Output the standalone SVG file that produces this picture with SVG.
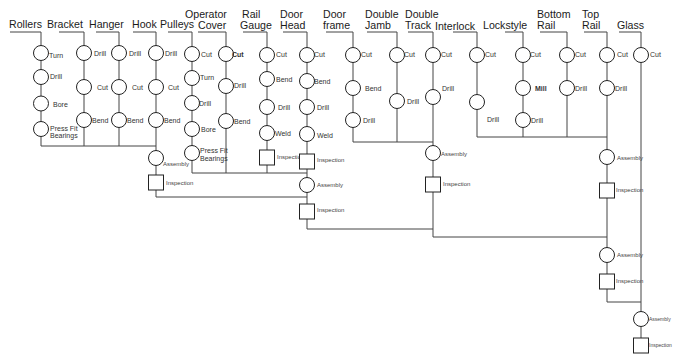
<svg xmlns="http://www.w3.org/2000/svg" width="673" height="354" viewBox="0 0 673 354">
<style>
.h{font-family:"Liberation Sans",Arial,sans-serif;font-size:10.6px;fill:#1a1a1a}
.l{font-family:"Liberation Sans",Arial,sans-serif;font-size:7px;fill:#333}
.b{font-weight:bold}
.s{font-family:"Liberation Sans",Arial,sans-serif;font-size:6px;fill:#444}
.t{font-size:5px}
circle,rect{fill:#fff;stroke:#222;stroke-width:1}
#connectors path{fill:none;stroke:#444;stroke-width:1}
</style>
<rect x="0" y="0" width="673" height="354" style="fill:#fff;stroke:none"/>
<g id="connectors">
<path d="M10,32H41V146H156"/>
<path d="M59,32H84V146"/>
<path d="M96,32H119V146"/>
<path d="M133,32H156V197H307"/>
<path d="M168,32H192V173H307"/>
<path d="M198,32H226V173"/>
<path d="M243,32H267V173"/>
<path d="M283,32H307V229H433"/>
<path d="M326,32H353V142H433"/>
<path d="M367,32H397V142"/>
<path d="M408,32H433V237H607"/>
<path d="M453,32H477V137H607"/>
<path d="M505,32H523V137"/>
<path d="M540,32H567V137"/>
<path d="M584,32H607V302H641"/>
<path d="M619,32H641V346"/>
</g>
<g id="headers">
<g id="h-rollers"><text class="h" x="9" y="28">Rollers</text></g>
<g id="h-bracket"><text class="h" x="47" y="28">Bracket</text></g>
<g id="h-hanger"><text class="h" x="89" y="28">Hanger</text></g>
<g id="h-hook"><text class="h" x="132" y="28">Hook</text></g>
<g id="h-pulleys"><text class="h" x="160" y="28">Pulleys</text></g>
<g id="h-cover"><text class="h" x="185" y="18">Operator</text><text class="h" x="198" y="28.5">Cover</text></g>
<g id="h-railgauge"><text class="h" x="242" y="18">Rail</text><text class="h" x="240" y="28.5">Gauge</text></g>
<g id="h-doorhead"><text class="h" x="280" y="18">Door</text><text class="h" x="280" y="28.5">Head</text></g>
<g id="h-doorframe"><text class="h" x="323" y="18">Door</text><text class="h" x="323" y="28.5">frame</text></g>
<g id="h-doublejamb"><text class="h" x="365" y="18">Double</text><text class="h" x="365" y="28.5">Jamb</text></g>
<g id="h-doubletrack"><text class="h" x="405" y="18">Double</text><text class="h" x="405" y="28.5">Track</text></g>
<g id="h-interlock"><text class="h" x="435" y="29.5">Interlock</text></g>
<g id="h-lockstyle"><text class="h" x="483" y="28.5">Lockstyle</text></g>
<g id="h-bottomrail"><text class="h" x="537" y="18">Bottom</text><text class="h" x="537" y="28.5">Rail</text></g>
<g id="h-toprail"><text class="h" x="582" y="18">Top</text><text class="h" x="582" y="28.5">Rail</text></g>
<g id="h-glass"><text class="h" x="617" y="28.5">Glass</text></g>
</g>
<!-- Rollers -->
<g id="rollers-turn"><circle cx="41" cy="53" r="7.5"/><text class="l" x="49" y="58">Turn</text></g>
<g id="rollers-drill"><circle cx="41" cy="77" r="7.5"/><text class="l" x="50" y="79">Drill</text></g>
<g id="rollers-bore"><circle cx="41" cy="103.5" r="7.5"/><text class="l" x="53" y="107">Bore</text></g>
<g id="rollers-press"><circle cx="41" cy="129" r="7.5"/><text class="l" x="50" y="130.5">Press Fit</text><text class="l" x="50" y="138">Bearings</text></g>
<!-- Bracket -->
<g id="bracket-drill"><circle cx="84" cy="53" r="7.5"/><text class="l" x="94" y="56">Drill</text></g>
<g id="bracket-cut"><circle cx="84" cy="87" r="7.5"/><text class="l" x="97" y="90">Cut</text></g>
<g id="bracket-bend"><circle cx="84" cy="120" r="7.5"/><text class="l" x="92" y="123">Bend</text></g>
<!-- Hanger -->
<g id="hanger-drill"><circle cx="119" cy="53" r="7.5"/><text class="l" x="129" y="56">Drill</text></g>
<g id="hanger-cut"><circle cx="119" cy="87" r="7.5"/><text class="l" x="132" y="90">Cut</text></g>
<g id="hanger-bend"><circle cx="119" cy="120" r="7.5"/><text class="l" x="127" y="123">Bend</text></g>
<!-- Hook -->
<g id="hook-drill"><circle cx="156" cy="53" r="7.5"/><text class="l" x="165" y="56">Drill</text></g>
<g id="hook-cut"><circle cx="156" cy="87" r="7.5"/><text class="l" x="168" y="90">Cut</text></g>
<g id="hook-bend"><circle cx="156" cy="120" r="7.5"/><text class="l" x="164" y="123">Bend</text></g>
<g id="hook-assembly"><circle cx="156" cy="158" r="7.5"/><text class="s" x="163" y="166">Assembly</text></g>
<g id="hook-inspection"><rect x="148.5" y="175" width="15" height="15"/><text class="s" x="166" y="185">Inspection</text></g>
<!-- Pulleys -->
<g id="pulleys-cut"><circle cx="192" cy="54" r="7.5"/><text class="l" x="201" y="57">Cut</text></g>
<g id="pulleys-turn"><circle cx="192" cy="78" r="7.5"/><text class="l" x="200" y="80">Turn</text></g>
<g id="pulleys-drill"><circle cx="192" cy="103" r="7.5"/><text class="l" x="199" y="106">Drill</text></g>
<g id="pulleys-bore"><circle cx="192" cy="129" r="7.5"/><text class="l" x="201" y="132">Bore</text></g>
<g id="pulleys-press"><circle cx="192" cy="153" r="7.5"/><text class="l" x="200" y="153">Press Fit</text><text class="l" x="200" y="161">Bearings</text></g>
<!-- Operator Cover -->
<g id="cover-cut"><circle cx="226" cy="54" r="7.5"/><text class="l b" x="232" y="57">Cut</text></g>
<g id="cover-drill"><circle cx="226" cy="86" r="7.5"/><text class="l" x="234" y="88">Drill</text></g>
<g id="cover-bend"><circle cx="226" cy="121" r="7.5"/><text class="l" x="234" y="124">Bend</text></g>
<!-- Rail Gauge -->
<g id="gauge-cut"><circle cx="267" cy="55" r="7.5"/><text class="l" x="276" y="57">Cut</text></g>
<g id="gauge-bend"><circle cx="267" cy="79" r="7.5"/><text class="l" x="276" y="82">Bend</text></g>
<g id="gauge-drill"><circle cx="267" cy="107" r="7.5"/><text class="l" x="278" y="109.5">Drill</text></g>
<g id="gauge-weld"><circle cx="267" cy="133" r="7.5"/><text class="l" x="275" y="136">Weld</text></g>
<g id="gauge-inspection"><rect x="259.5" y="150" width="15" height="15"/><text class="s" x="277" y="159">Inspection</text></g>
<!-- Door Head -->
<g id="head-cut"><circle cx="307" cy="55" r="7.5"/><text class="l" x="314" y="57">Cut</text></g>
<g id="head-bend"><circle cx="307" cy="81" r="7.5"/><text class="l" x="314" y="84">Bend</text></g>
<g id="head-drill"><circle cx="307" cy="107" r="7.5"/><text class="l" x="317" y="109.5">Drill</text></g>
<g id="head-weld"><circle cx="307" cy="134" r="7.5"/><text class="l" x="317" y="137.5">Weld</text></g>
<g id="head-inspection"><rect x="299.5" y="154" width="15" height="15"/><text class="s" x="317" y="162">Inspection</text></g>
<g id="head-assembly"><circle cx="307" cy="185" r="7.5"/><text class="s" x="317" y="187">Assembly</text></g>
<g id="head-inspection2"><rect x="299.5" y="204" width="15" height="15"/><text class="s" x="317" y="211.5">Inspection</text></g>
<!-- Door frame -->
<g id="frame-cut"><circle cx="353" cy="55" r="7.5"/><text class="l" x="361" y="57">Cut</text></g>
<g id="frame-bend"><circle cx="353" cy="88" r="7.5"/><text class="l" x="365" y="90.5">Bend</text></g>
<g id="frame-drill"><circle cx="353" cy="120" r="7.5"/><text class="l" x="363" y="123">Drill</text></g>
<!-- Double Jamb -->
<g id="jamb-cut"><circle cx="397" cy="55" r="7.5"/><text class="l" x="404" y="57">Cut</text></g>
<g id="jamb-drill"><circle cx="397" cy="101" r="7.5"/><text class="l" x="407" y="104">Drill</text></g>
<!-- Double Track -->
<g id="track-cut"><circle cx="433" cy="55" r="7.5"/><text class="l" x="441" y="57">Cut</text></g>
<g id="track-drill"><circle cx="433" cy="97" r="7.5"/><text class="l" x="442" y="90.5">Drill</text></g>
<g id="track-assembly"><circle cx="433" cy="153" r="7.5"/><text class="s" x="441" y="156">Assembly</text></g>
<g id="track-inspection"><rect x="425.5" y="177" width="15" height="15"/><text class="s" x="443" y="186">Inspection</text></g>
<!-- Interlock -->
<g id="interlock-cut"><circle cx="477" cy="55" r="7.5"/><text class="l" x="485" y="57">Cut</text></g>
<g id="interlock-drill"><circle cx="477" cy="102" r="7.5"/><text class="l" x="487" y="122">Drill</text></g>
<!-- Lockstyle -->
<g id="lock-cut"><circle cx="523" cy="55" r="7.5"/><text class="l" x="530" y="57">Cut</text></g>
<g id="lock-mill"><circle cx="523" cy="88" r="7.5"/><text class="l b" x="535" y="91">Mill</text></g>
<g id="lock-drill"><circle cx="523" cy="120" r="7.5"/><text class="l" x="531" y="123">Drill</text></g>
<!-- Bottom Rail -->
<g id="bottom-cut"><circle cx="567" cy="55" r="7.5"/><text class="l" x="575" y="57">Cut</text></g>
<g id="bottom-drill"><circle cx="567" cy="88" r="7.5"/><text class="l" x="575" y="91">Drill</text></g>
<!-- Top Rail -->
<g id="top-cut"><circle cx="607" cy="55" r="7.5"/><text class="l" x="617" y="57">Cut</text></g>
<g id="top-drill"><circle cx="607" cy="88" r="7.5"/><text class="l" x="615" y="91">Drill</text></g>
<g id="top-assembly"><circle cx="607" cy="157" r="7.5"/><text class="s" x="617" y="159.5">Assembly</text></g>
<g id="top-inspection"><rect x="599.5" y="183" width="15" height="15"/><text class="s" x="616" y="192">Inspection</text></g>
<g id="top-assembly2"><circle cx="607" cy="255" r="7.5"/><text class="s" x="617" y="257">Assembly</text></g>
<g id="top-inspection2"><rect x="599.5" y="274" width="15" height="15"/><text class="s" x="616" y="283">Inspection</text></g>
<!-- Glass -->
<g id="glass-cut"><circle cx="641" cy="55" r="7.5"/><text class="l" x="650" y="57">Cut</text></g>
<g id="glass-assembly"><circle cx="641" cy="319" r="7.5"/><text class="s t" x="649" y="321">Assembly</text></g>
<g id="glass-inspection"><rect x="633.5" y="338" width="15" height="15"/><text class="s t" x="649" y="347">Inspection</text></g>
</svg>
